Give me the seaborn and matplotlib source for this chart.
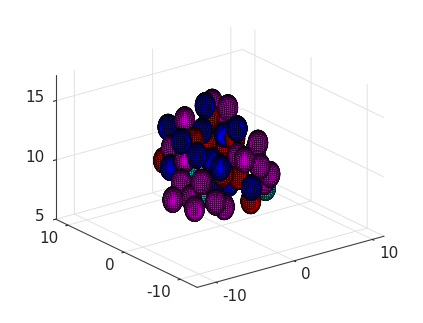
import numpy as np
import matplotlib
matplotlib.use('Agg')
import matplotlib.pyplot as plt
from mpl_toolkits.mplot3d import proj3d
import seaborn as sns

# sphere centres, front to back
sphere_x = [-4.69, -3.15, -5.69, -2.19, -4.13, -0.67, -0.10, -3.07, -4.25, -1.67, -2.06, -2.47,
            -1.54, -0.87, -0.31, 0.10, 1.28, 2.53, 2.34, 2.65, 0.63, 0.51, 0.47, 2.50, 2.35,
            -4.06, -3.69, -3.39, -2.64, -2.74, -1.04, -0.67, -3.45, -2.06, -1.02, -0.50, -3.11,
            -1.74, 1.23, 1.38, 1.01, 1.21, -0.23, 0.37, 1.43, 1.02, 1.56, 1.59]
sphere_y = [-1.82, -3.41, 0.68, -3.62, -0.38, -6.29, -5.43, -0.74, 1.18, -1.01, 0.36, 2.05,
            -2.02, -1.57, -1.79, -4.02, -5.12, -5.17, -4.37, -4.24, -2.26, -1.55, -2.31, -2.64, -3.27,
            3.42, 5.12, 4.16, 0.62, 2.69, 0.34, 0.38, 2.29, 2.02, 1.98, 1.81, 5.15,
            4.08, -1.15, -0.53, 0.82, 1.10, 2.54, 2.55, 0.80, 3.03, 1.99, 3.35]
sphere_z = [7.70, 8.32, 8.07, 7.80, 8.20, 9.77, 8.34, 9.41, 9.19, 8.94, 7.86, 9.37,
            10.64, 9.85, 9.02, 11.47, 10.95, 10.06, 9.26, 8.70, 9.52, 10.08, 11.38, 11.46, 12.30,
            9.85, 10.01, 11.25, 11.27, 10.45, 10.63, 9.71, 12.24, 12.11, 12.72, 11.74, 12.71,
            13.33, 13.23, 12.22, 12.34, 11.46, 14.61, 13.52, 14.52, 14.56, 13.15, 11.91]
sphere_kind = ['m', 'm', 'm', 'm', 'm', 'b', 'r', 'm', 'm', 'b', 'c', 'c',
               'b', 'r', 'b', 'm', 'm', 'm', 'm', 'c', 'r', 'b', 'm', 'c', 'm',
               'b', 'r', 'm', 'b', 'm', 'b', 'r', 'b', 'r', 'b', 'r', 'b',
               'm', 'b', 'r', 'b', 'r', 'b', 'r', 'm', 'm', 'm', 'm']
sphere_radius = 1.05

x_ticks = [-10, 0, 10]
y_ticks = [-10, 0, 10]
z_ticks = [5, 10, 15]
x_lim = (-12.4, 11.5)
y_lim = (-13.0, 12.2)
z_lim = (5, 17.16)

sns.set_style('white')
plt.rcParams['font.family'] = ['DejaVu Sans']
kind_colors = dict(zip('bmrc', sns.color_palette(['#0000dc', '#d000d0', '#e00000', '#00d8d8'])))

fig = plt.figure(figsize=(4.23, 3.23), dpi=100)
ax = fig.add_axes([4 / 423, 1.5 / 323, 1, 1], projection='3d', proj_type='ortho')
ax.view_init(elev=21.3, azim=-127)
ax.set_box_aspect((233, 234, 154), zoom=1.10)
ax.set_xlim(*x_lim)
ax.set_ylim(*y_lim)
ax.set_zlim(*z_lim)
ax.patch.set_alpha(0)

# unit sphere mesh
u = np.linspace(0, 2 * np.pi, 31)
v = np.linspace(0, np.pi, 21)
ux = np.outer(np.cos(u), np.sin(v))
uy = np.outer(np.sin(u), np.sin(v))
uz = np.outer(np.ones_like(u), np.cos(v))

for cx, cy, cz, kind in zip(sphere_x, sphere_y, sphere_z, sphere_kind):
    ax.plot_surface(cx + sphere_radius * ux, cy + sphere_radius * uy, cz + sphere_radius * uz,
                    rstride=1, cstride=1, color=kind_colors[kind], edgecolor='black',
                    linewidth=0.3, shade=False)

ax.set_xticks(x_ticks)
ax.set_yticks(y_ticks)
ax.set_zticks(z_ticks)
ax.set_xticklabels([])
ax.set_yticklabels([])
ax.set_zticklabels([])


def tick_label(x, y, z, s, ha):
    # project by hand so the label is a plain 2D text
    px, py, _ = proj3d.proj_transform(x, y, z, ax.get_proj())
    ax.text2D(px, py, s, transform=ax.transData, ha=ha, va='center', fontsize=11, color='#262626')


for t in x_ticks:
    tick_label(t, y_lim[0] - 1.2, z_lim[0] - 0.91, str(t), 'left')
for t in y_ticks:
    tick_label(x_lim[0] - 1.16, t, z_lim[0] - 0.89, str(t), 'right')
for t in z_ticks:
    tick_label(x_lim[0] - 1.41, y_lim[1], t + 0.5, str(t), 'right')

for axis in (ax.xaxis, ax.yaxis, ax.zaxis):
    axis.set_pane_color((1, 1, 1, 0))
    axis.pane.set_edgecolor('none')
    axis.line.set_color('#404040')
    axis.line.set_linewidth(0.8)
    axis._axinfo['grid'].update(color='#e2e2e2', linewidth=0.7)
    axis._axinfo['tick'].update(inward_factor=0.15, outward_factor=0, color='#404040')

plt.savefig('out.png', dpi=100)
